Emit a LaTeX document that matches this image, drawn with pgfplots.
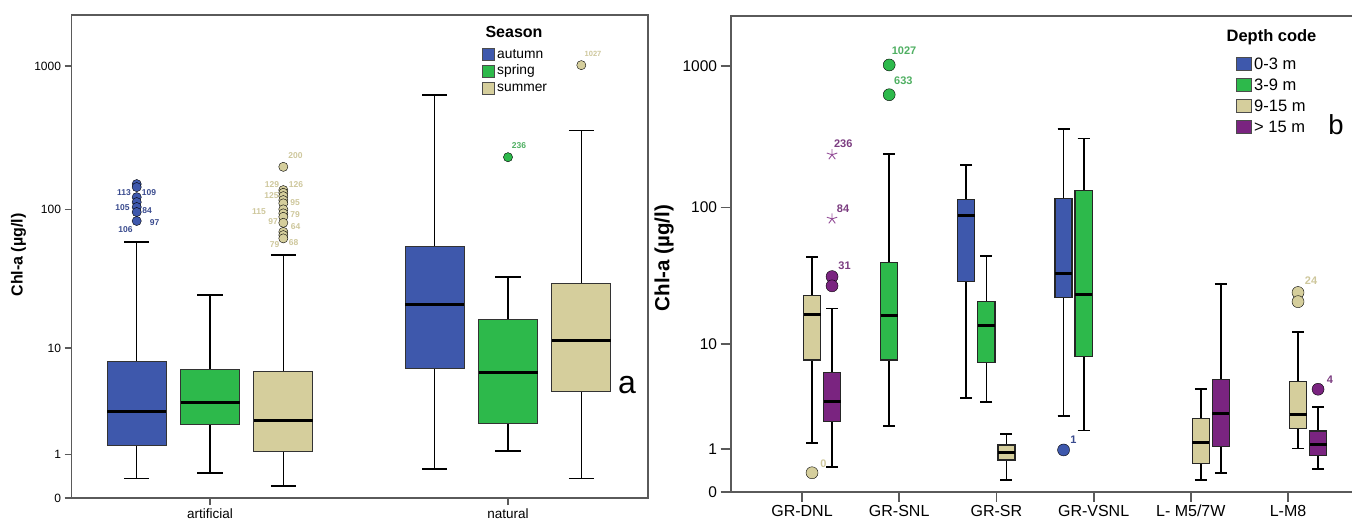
\documentclass[border=0pt]{standalone}
\usepackage{pgfplots}
\pgfplotsset{compat=1.18}
\usepgfplotslibrary{statistics}
\usepackage{fontspec}
\setmainfont{Liberation Sans}
\definecolor{cA}{HTML}{3E58AC}
\definecolor{cB}{HTML}{2DB94B}
\definecolor{cC}{HTML}{D5CE9C}
\definecolor{cD}{HTML}{7A2480}
\definecolor{lA}{HTML}{3A4B8E}
\definecolor{lB}{HTML}{4FAF62}
\definecolor{lC}{HTML}{CEC79C}
\definecolor{lD}{HTML}{7B3C80}
\definecolor{axisgray}{HTML}{5A5A5A}
\pgfplotsset{
  chla/.style={
    scale only axis, anchor=south west,
    ymin=0, ymax=2265,
    y coord trafo/.code={\pgfmathparse{log10(##1+1)}},
    y coord inv trafo/.code={\pgfmathparse{10^(##1)-1}},
    ytick={0,1,10,100,1000}, yticklabels={0,1,10,100,1000},
    tick align=outside, tick pos=left,
    boxplot/draw direction=y,
    boxplot/every median/.style={line width=3pt, draw=black},
  },
  out/.style={only marks, mark=*, mark size=#1, mark options={draw=black!75, line width=0.8pt}},
}
\begin{document}
\begin{tikzpicture}
\useasboundingbox (0pt,0pt) rectangle (1352pt,522pt);
% ---- outlier labels, left panel ----
\begin{scope}[every node/.style={font=\fontsize{8.5}{10}\selectfont\bfseries, inner sep=0pt}]
\node[text=lA] at (124pt,329pt) {113};
\node[text=lA] at (149pt,329pt) {109};
\node[text=lA] at (122.5pt,314pt) {105};
\node[text=lA] at (147pt,311.5pt) {84};
\node[text=lA] at (154.5pt,299.5pt) {97};
\node[text=lA] at (125.5pt,292pt) {106};
\node[text=lC] at (295.5pt,366pt) {200};
\node[text=lC] at (272pt,337pt) {129};
\node[text=lC] at (296pt,337pt) {126};
\node[text=lC] at (271.5pt,326pt) {125};
\node[text=lC] at (295pt,319pt) {95};
\node[text=lC] at (259pt,310pt) {115};
\node[text=lC] at (295pt,307pt) {79};
\node[text=lC] at (273pt,300pt) {97};
\node[text=lC] at (295.5pt,295pt) {64};
\node[text=lC] at (274.5pt,277pt) {79};
\node[text=lC] at (293.5pt,279pt) {68};
\node[text=lB] at (519pt,376.5pt) {236};
\node[text=lC, font=\fontsize{7.5}{9}\selectfont\bfseries] at (593pt,468pt) {1027};
\end{scope}
% ---- outlier labels, right panel ----
\begin{scope}[every node/.style={font=\fontsize{11}{13}\selectfont\bfseries, inner sep=0pt}]
\node[text=lC] at (823.3pt,58.7pt) {0};
\node[text=lD] at (843.3pt,378pt) {236};
\node[text=lD] at (843pt,313pt) {84};
\node[text=lD] at (844.5pt,256pt) {31};
\node[text=lB] at (904pt,471pt) {1027};
\node[text=lB] at (903.3pt,441pt) {633};
\node[text=lA] at (1073.5pt,82pt) {1};
\node[text=lC] at (1311pt,241pt) {24};
\node[text=lD] at (1330pt,142.7pt) {4};
\end{scope}
% ================= LEFT PANEL =================
\begin{axis}[chla,
  at={(71.5pt,24pt)}, width=576.5pt, height=483pt,
  xmin=-0.4648, xmax=1.4698,
  xtick={0,1}, xticklabels={artificial,natural},
  major tick length=7pt,
  axis line style={draw=axisgray, line width=1.2pt},
  tick style={draw=axisgray, line width=1.2pt},
  yticklabel style={font=\fontsize{12}{14}\selectfont},
  xticklabel style={font=\fontsize{13.5}{15}\selectfont},
  boxplot/box extend=0.198, boxplot/whisker extend=0.084,
  boxplot/every whisker/.style={line width=1.3pt, draw=black},
  boxplot/every box/.style={line width=0.9pt, draw=black!80},
]
\addplot[fill=cA, draw=black, boxplot prepared={draw position=-0.246, lower whisker=0.36, lower quartile=1.3, median=3.0, upper quartile=7.9, upper whisker=59}] coordinates {};
\addplot[fill=cB, draw=black, boxplot prepared={draw position=0, lower whisker=0.49, lower quartile=2.26, median=3.64, upper quartile=6.87, upper whisker=24.7}] coordinates {};
\addplot[fill=cC, draw=black, boxplot prepared={draw position=0.246, lower whisker=0.21, lower quartile=1.09, median=2.48, upper quartile=6.62, upper whisker=47.7}] coordinates {};
\addplot[fill=cA, draw=black, boxplot prepared={draw position=0.754, lower whisker=0.59, lower quartile=7.0, median=21.2, upper quartile=55.2, upper whisker=628}] coordinates {};
\addplot[fill=cB, draw=black, boxplot prepared={draw position=1, lower whisker=1.12, lower quartile=2.32, median=6.5, upper quartile=16.5, upper whisker=33.3}] coordinates {};
\addplot[fill=cC, draw=black, boxplot prepared={draw position=1.246, lower whisker=0.36, lower quartile=4.53, median=11.5, upper quartile=30.1, upper whisker=358}] coordinates {};
\addplot[out=4.6pt, mark options={fill=cA}] coordinates {(-0.246,150.6) (-0.246,143.5) (-0.246,122) (-0.246,112.6) (-0.246,104) (-0.246,95.9) (-0.246,83)};
\addplot[out=4.6pt, mark options={fill=cC}] coordinates {(0.246,198.8) (0.246,136.7) (0.246,130.8) (0.246,124) (0.246,116.3) (0.246,110.4) (0.246,100.2) (0.246,93.9) (0.246,88.8) (0.246,80.6) (0.246,69.6) (0.246,66) (0.246,62.6)};
\addplot[out=4.6pt, mark options={fill=cB}] coordinates {(1,232)};
\addplot[out=4.6pt, mark options={fill=cC}] coordinates {(1.246,1015)};
\end{axis}
% ================= RIGHT PANEL =================
\begin{axis}[chla,
  at={(730.6pt,30.3pt)}, width=623.4pt, height=475.7pt,
  xmin=-0.7346, xmax=5.679,
  xtick={0,1,2,3,4,5}, xticklabels={GR-DNL,GR-SNL,GR-SR,GR-VSNL,L- M5/7W,L-M8},
  major tick length=10pt,
  axis line style={draw=axisgray, line width=1.8pt},
  tick style={draw=axisgray, line width=1.8pt},
  yticklabel style={font=\fontsize{15.5}{17}\selectfont},
  xticklabel style={font=\fontsize{16}{18}\selectfont},
  boxplot/box extend=0.175, boxplot/whisker extend=0.123,
  boxplot/every whisker/.style={line width=1.8pt, draw=black},
  boxplot/every box/.style={line width=1.2pt, draw=black!85},
]
\addplot[fill=cC, draw=black, boxplot prepared={draw position=0.103, lower whisker=1.2, lower quartile=7.5, median=16.9, upper quartile=23.2, upper whisker=44.1}] coordinates {};
\addplot[fill=cD, draw=black, boxplot prepared={draw position=0.309, lower whisker=0.5, lower quartile=2.12, median=3.32, upper quartile=5.92, upper whisker=18.6}] coordinates {};
\addplot[fill=cB, draw=black, boxplot prepared={draw position=0.897, lower whisker=1.91, lower quartile=7.5, median=16.4, upper quartile=40.4, upper whisker=241}] coordinates {};
\addplot[fill=cA, draw=black, boxplot prepared={draw position=1.691, lower whisker=3.61, lower quartile=29.4, median=87.3, upper quartile=113.6, upper whisker=200}] coordinates {};
\addplot[fill=cB, draw=black, boxplot prepared={draw position=1.897, lower whisker=3.28, lower quartile=7.14, median=13.8, upper quartile=20.9, upper whisker=45.1}] coordinates {};
\addplot[fill=cC, draw=black, boxplot prepared={draw position=2.103, lower whisker=0.21, lower quartile=0.674, median=0.885, upper quartile=1.136, upper whisker=1.55}] coordinates {};
\addplot[fill=cA, draw=black, boxplot prepared={draw position=2.691, lower whisker=2.42, lower quartile=22.4, median=33.4, upper quartile=116, upper whisker=362}] coordinates {};
\addplot[fill=cB, draw=black, boxplot prepared={draw position=2.897, lower whisker=1.7, lower quartile=7.97, median=23.7, upper quartile=131.6, upper whisker=309}] coordinates {};
\addplot[fill=cC, draw=black, boxplot prepared={draw position=4.103, lower whisker=0.21, lower quartile=0.585, median=1.22, upper quartile=2.3, upper whisker=4.28}] coordinates {};
\addplot[fill=cD, draw=black, boxplot prepared={draw position=4.309, lower whisker=0.35, lower quartile=1.08, median=2.57, upper quartile=5.21, upper whisker=28.2}] coordinates {};
\addplot[fill=cC, draw=black, boxplot prepared={draw position=5.103, lower whisker=1.02, lower quartile=1.79, median=2.5, upper quartile=4.95, upper whisker=12.3}] coordinates {};
\addplot[fill=cD, draw=black, boxplot prepared={draw position=5.309, lower whisker=0.44, lower quartile=0.79, median=1.14, upper quartile=1.68, upper whisker=2.94}] coordinates {};
\addplot[out=6pt, mark options={fill=cC}] coordinates {(0.103,0.36) (5.103,24.4) (5.103,20.9)};
\addplot[out=6pt, mark options={fill=cD}] coordinates {(0.309,31.9) (0.309,27.3) (5.309,4.28)};
\addplot[only marks, mark=star, mark size=5.5pt, mark options={draw=cD!80, line width=0.9pt}] coordinates {(0.309,237) (0.309,83)};
\addplot[out=6pt, mark options={fill=cB}] coordinates {(0.897,1022) (0.897,630)};
\addplot[out=6pt, mark options={fill=cA}] coordinates {(2.691,0.97)};
\end{axis}
% ---- axis titles ----
\node[rotate=90, font=\fontsize{16}{18}\selectfont\bfseries] at (18.5pt,267pt) {Chl-a (µg/l)};
\node[rotate=90, font=\fontsize{20.5}{22}\selectfont\bfseries] at (664pt,264pt) {Chl-a (µg/l)};
% ---- legend a ----
\node[font=\fontsize{16}{18}\selectfont\bfseries] at (514pt,490pt) {Season};
\begin{scope}[every node/.style={font=\fontsize{13.8}{15}\selectfont, anchor=west, inner sep=0pt}]
\filldraw[fill=cA, draw=black!70, line width=0.8pt] (482pt,462pt) rectangle (494pt,474pt);
\node at (497pt,468pt) {autumn};
\filldraw[fill=cB, draw=black!70, line width=0.8pt] (482pt,445pt) rectangle (494pt,457pt);
\node at (497pt,451pt) {spring};
\filldraw[fill=cC, draw=black!70, line width=0.8pt] (482pt,428pt) rectangle (494pt,440pt);
\node at (497pt,434pt) {summer};
\end{scope}
\node[font=\fontsize{32}{34}\selectfont] at (627pt,137pt) {a};
% ---- legend b ----
\node[font=\fontsize{16.5}{18}\selectfont\bfseries] at (1271.5pt,485pt) {Depth code};
\begin{scope}[every node/.style={font=\fontsize{16.5}{18}\selectfont, anchor=west, inner sep=0pt}]
\filldraw[fill=cA, draw=black!70, line width=0.8pt] (1236pt,451.8pt) rectangle (1251pt,464.8pt);
\node at (1254pt,458.3pt) {0-3 m};
\filldraw[fill=cB, draw=black!70, line width=0.8pt] (1236pt,430.5pt) rectangle (1251pt,443.5pt);
\node at (1254pt,437pt) {3-9 m};
\filldraw[fill=cC, draw=black!70, line width=0.8pt] (1236pt,409.2pt) rectangle (1251pt,422.2pt);
\node at (1254pt,415.7pt) {9-15 m};
\filldraw[fill=cD, draw=black!70, line width=0.8pt] (1236pt,388.5pt) rectangle (1251pt,401.5pt);
\node at (1254pt,395pt) {> 15 m};
\end{scope}
\node[font=\fontsize{27.5}{30}\selectfont] at (1336pt,397pt) {b};
\end{tikzpicture}
\end{document}
